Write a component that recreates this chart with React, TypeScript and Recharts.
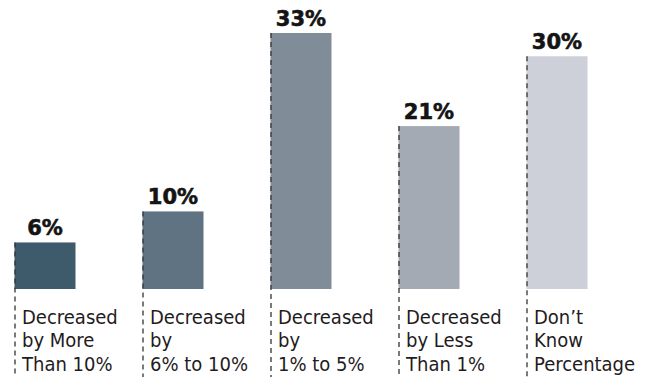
import { Bar, BarChart, Cell, LabelList, XAxis, YAxis } from 'recharts'

const W = 646
const H = 377
const BAR = 61
const AXIS_H = 88

const CATEGORIES = [
  'Decreased by More Than 10%',
  'Decreased by 6% to 10%',
  'Decreased by 1% to 5%',
  'Decreased by Less Than 1%',
  'Don’t Know Percentage',
]
const LABEL_LINES = [
  ['Decreased', 'by More', 'Than 10%'],
  ['Decreased', 'by', '6% to 10%'],
  ['Decreased', 'by', '1% to 5%'],
  ['Decreased', 'by Less', 'Than 1%'],
  ['Don’t', 'Know', 'Percentage'],
]
const VALUES = [6, 10, 33, 21, 30]
const COLORS = ['#3e5b6b', '#607383', '#808c98', '#a3aab3', '#cdd0d8']

const data = CATEGORIES.map((name, i) => ({ name, value: VALUES[i] }))

const MARGIN = { top: 33, right: 25.5, bottom: 0, left: -19.5 }
const BASE_Y = H - AXIS_H

function BarShape(props: any) {
  const { x, y, width, height, fill } = props
  return (
    <g>
      <rect x={x} y={y} width={width} height={height} fill={fill} />
      <line
        x1={x + 0.5}
        y1={y}
        x2={x + 0.5}
        y2={H}
        stroke="#333"
        strokeWidth={1.3}
        strokeDasharray="5 4"
      />
    </g>
  )
}

function CategoryTick(props: any) {
  const { x, payload } = props
  const idx = CATEGORIES.indexOf(payload.value)
  const lines = LABEL_LINES[idx] || []
  const left = x - BAR / 2 + 8
  return (
    <text
      x={left}
      y={BASE_Y + 34.5}
      fill="#1f1c1d"
      fontSize={20}
      fontFamily="'DejaVu Sans Condensed', 'Liberation Sans Narrow', 'DejaVu Sans', sans-serif"
      fontStretch="condensed"
    >
      {lines.map((l, i) => (
        <tspan key={i} x={left} dy={i === 0 ? 0 : 23.5}>
          {l}
        </tspan>
      ))}
    </text>
  )
}

export default function App() {
  return (
    <div style={{ position: 'absolute', left: 0, top: 0, width: W, height: H, background: '#fff' }}>
      <BarChart width={W} height={H} data={data} margin={MARGIN} barCategoryGap={0} barSize={BAR}>
        <XAxis
          dataKey="name"
          axisLine={false}
          tickLine={false}
          interval={0}
          height={AXIS_H}
          tick={<CategoryTick />}
        />
        <YAxis hide domain={[0, 33]} />
        <Bar dataKey="value" shape={<BarShape />} isAnimationActive={false}>
          {data.map((d, i) => (
            <Cell key={d.name} fill={COLORS[i]} />
          ))}
          <LabelList
            dataKey="value"
            position="top"
            offset={7}
            formatter={(v: any) => `${v}%`}
            fill="#141414"
            stroke="#141414"
            strokeWidth={0.6}
            fontSize={21}
            fontWeight={900}
            fontFamily="'DejaVu Sans', sans-serif"
          />
        </Bar>
      </BarChart>
    </div>
  )
}
